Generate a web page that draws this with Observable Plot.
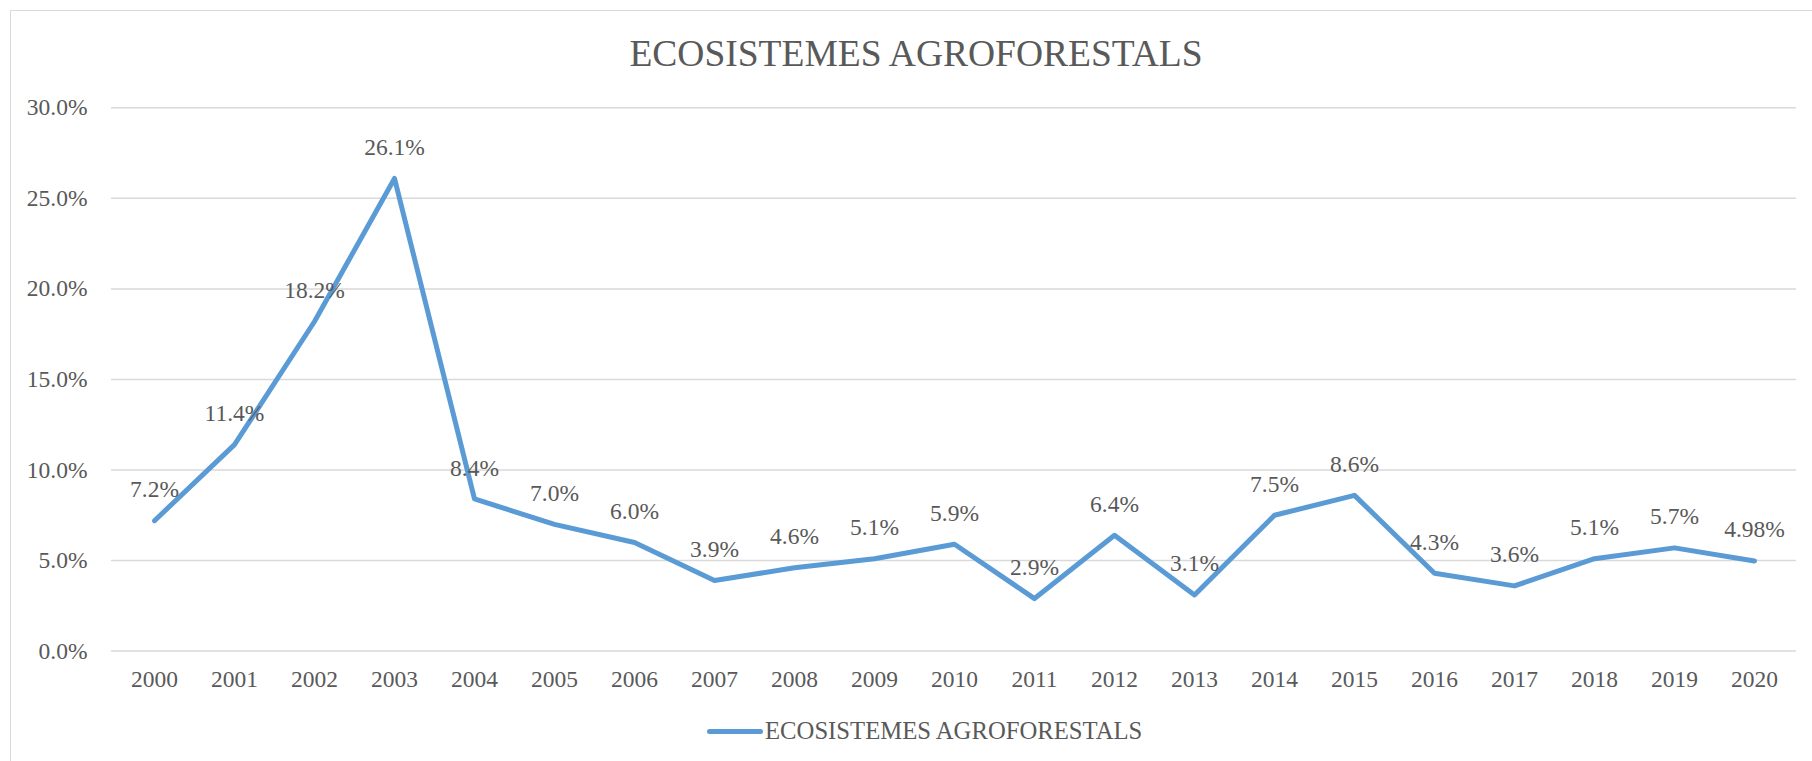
<!DOCTYPE html>
<html>
<head>
<meta charset="utf-8">
<script src="https://cdn.jsdelivr.net/npm/d3@7"></script>
<script src="https://cdn.jsdelivr.net/npm/@observablehq/plot@0.6"></script>
<style>
  html, body { margin: 0; padding: 0; background: #fff; overflow: hidden; }
  #wrap { position: relative; width: 1812px; height: 761px; overflow: hidden; font-family: "Liberation Serif", "Times New Roman", serif; color: #595959; }
  #frame { position: absolute; left: 10px; top: 10px; width: 1830px; height: 790px; border: 1.5px solid #D9D9D9; box-sizing: border-box; }
  #title { position: absolute; left: 0; width: 1832px; top: 32px; text-align: center; font-size: 37.5px; line-height: 44px; color: #595959; }
  #chart { position: absolute; left: 0; top: 0; }
  #legend { position: absolute; left: 707px; top: 717px; height: 28px; display: flex; align-items: center; font-size: 24.7px; line-height: 28px; color: #595959; }
  #legend .sw { width: 56px; height: 5px; background: #5B9BD5; border-radius: 3px; margin-right: 2px; }
</style>
</head>
<body>
<div id="wrap">
  <div id="frame"></div>
  <div id="chart"></div>
  <div id="title">ECOSISTEMES AGROFORESTALS</div>
  <div id="legend"><span class="sw"></span><span>ECOSISTEMES AGROFORESTALS</span></div>
</div>
<script>
const years = ["2000","2001","2002","2003","2004","2005","2006","2007","2008","2009","2010","2011","2012","2013","2014","2015","2016","2017","2018","2019","2020"];
const values = [0.072,0.114,0.182,0.261,0.084,0.070,0.060,0.039,0.046,0.051,0.059,0.029,0.064,0.031,0.075,0.086,0.043,0.036,0.051,0.057,0.0498];
const valueLabels = ["7.2%","11.4%","18.2%","26.1%","8.4%","7.0%","6.0%","3.9%","4.6%","5.1%","5.9%","2.9%","6.4%","3.1%","7.5%","8.6%","4.3%","3.6%","5.1%","5.7%","4.98%"];
const yTicks = [0,0.05,0.10,0.15,0.20,0.25,0.30];

const data = years.map((y, i) => ({year: y, value: values[i], label: valueLabels[i]}));

const W = 1812, H = 700;
const FS = 23.5;
const chart = Plot.plot({
  width: W,
  height: H,
  marginLeft: 111,
  marginRight: 16,
  marginTop: 107.3,
  marginBottom: 49.4,
  style: {fontFamily: "'Liberation Serif', 'Times New Roman', serif", fontSize: FS + "px", color: "#595959", background: "transparent"},
  x: {type: "point", domain: years, padding: 0.5, label: null},
  y: {domain: [0, 0.30], label: null},
  marks: [
    Plot.ruleY(yTicks, {stroke: "#D9D9D9", strokeWidth: 1.5}),
    Plot.axisY({ticks: yTicks, tickFormat: d3.format(".1%"), tickSize: 0, tickPadding: 24, fill: "#595959", fontSize: FS, label: null}),
    Plot.axisX({tickSize: 0, tickPadding: 19, fill: "#595959", fontSize: FS, label: null}),
    Plot.line(data, {x: "year", y: "value", stroke: "#5B9BD5", strokeWidth: 5, strokeLinejoin: "round", strokeLinecap: "round"}),
    Plot.text(data, {x: "year", y: "value", text: "label", dy: -31, fill: "#595959", fontSize: FS})
  ]
});
document.getElementById("chart").appendChild(chart);
</script>
</body>
</html>
